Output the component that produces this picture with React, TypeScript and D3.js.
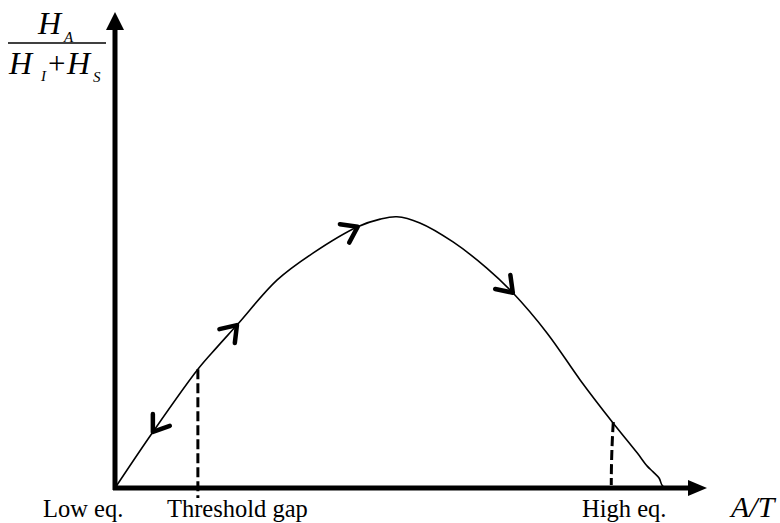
import React, { useEffect, useRef } from "react";
import * as d3 from "d3";

// hand drawn hysteresis-like curve, arbitrary units (0..100 on both axes)
const curveX = [0, 6.4, 14.0, 17.2, 20.6, 27.4, 33.5, 41.0, 44.8, 47.6, 51.5, 57.1, 62.8, 67.2, 73.0, 78.6, 84.0, 88.2, 89.9, 90.9, 91.9, 92.4, 92.9];
const curveY = [0, 11.8, 25.0, 29.6, 34.3, 43.8, 49.5, 55.0, 56.6, 57.1, 55.8, 51.8, 46.3, 41.1, 32.6, 22.7, 13.9, 7.4, 4.6, 3.4, 2.1, 0.6, 0];

const thresholdX = 14.0;
const thresholdY = 25.0;
const highEqX = 84.0;
const highEqY = 13.9;

// arrows along the curve: x position and direction (+1 forward, -1 backward)
const arrowAt = [6.4, 20.6, 41.0, 67.2];
const arrowDir = [-1, 1, 1, 1];

const xLabels = ["Low eq.", "Threshold gap", "High eq."];
const xTitle = "A/T";

function App() {
  const ref = useRef<SVGSVGElement>(null);

  useEffect(() => {
    const width = 780;
    const height = 523;
    const x = d3.scaleLinear().domain([0, 100]).range([115, 707]);
    const y = d3.scaleLinear().domain([0, 100]).range([488, 13]);

    const svg = d3.select(ref.current);
    svg.selectAll("*").remove();
    svg.attr("width", width).attr("height", height);

    const pts: [number, number][] = curveX.map((d, i) => [x(d), y(curveY[i])]);

    // axes
    svg.append("line")
      .attr("x1", x(0)).attr("x2", x(0))
      .attr("y1", y(0) + 2).attr("y2", 28)
      .attr("stroke", "#000").attr("stroke-width", 5);
    svg.append("path")
      .attr("d", `M${x(0)},${y(100) - 1}L${x(0) - 9},30L${x(0) + 9},30Z`)
      .attr("fill", "#000");
    svg.append("line")
      .attr("x1", x(0) - 2).attr("x2", 690)
      .attr("y1", y(0)).attr("y2", y(0))
      .attr("stroke", "#000").attr("stroke-width", 5);
    svg.append("path")
      .attr("d", `M${x(100)},${y(0)}L688,${y(0) - 8}L688,${y(0) + 8}Z`)
      .attr("fill", "#000");

    // dashed guides
    svg.append("line")
      .attr("x1", x(thresholdX)).attr("x2", x(thresholdX))
      .attr("y1", y(thresholdY)).attr("y2", y(0) + 10)
      .attr("stroke", "#000").attr("stroke-width", 3)
      .attr("stroke-dasharray", "10,4");
    svg.append("path")
      .attr("d", `M${x(highEqX) + 1},${y(highEqY)}Q${x(highEqX) - 1},${y(highEqY / 2)} ${x(highEqX) - 1},${y(0) - 3}`)
      .attr("fill", "none")
      .attr("stroke", "#000").attr("stroke-width", 3)
      .attr("stroke-dasharray", "10,4");

    // curve
    const line = d3.line().curve(d3.curveCatmullRom.alpha(0.5));
    svg.append("path")
      .attr("d", line(pts))
      .attr("fill", "none")
      .attr("stroke", "#000")
      .attr("stroke-width", 1.6);

    // chevron arrows
    arrowAt.forEach((a, k) => {
      let i = curveX.findIndex((d) => d >= a);
      if (i < 1) i = 1;
      const p0 = pts[i - 1];
      const p1 = pts[Math.min(i + 1, pts.length - 1)];
      const t = (x(a) - pts[i - 1][0]) / (pts[i][0] - pts[i - 1][0] || 1);
      const px = pts[i - 1][0] + t * (pts[i][0] - pts[i - 1][0]);
      const py = pts[i - 1][1] + t * (pts[i][1] - pts[i - 1][1]);
      let ang = Math.atan2(p1[1] - p0[1], p1[0] - p0[0]);
      if (arrowDir[k] < 0) ang += Math.PI;
      const back = ang + Math.PI;
      const spread = (35 * Math.PI) / 180;
      const len = 18;
      const a1 = back + spread;
      const a2 = back - spread;
      svg.append("path")
        .attr("d", `M${px + len * Math.cos(a1)},${py + len * Math.sin(a1)}L${px},${py}L${px + len * Math.cos(a2)},${py + len * Math.sin(a2)}`)
        .attr("fill", "none")
        .attr("stroke", "#000")
        .attr("stroke-width", 4.5)
        .attr("stroke-linecap", "round")
        .attr("stroke-linejoin", "round");
    });

    // x labels
    const font = "'Liberation Serif', 'Times New Roman', serif";
    const labelX = [43, 167, 582];
    xLabels.forEach((l, i) => {
      svg.append("text")
        .attr("x", labelX[i]).attr("y", 517)
        .attr("font-family", font).attr("font-size", 24.5)
        .text(l);
    });
    svg.append("text")
      .attr("x", 731).attr("y", 517)
      .attr("font-family", font).attr("font-size", 30)
      .attr("font-style", "italic")
      .text(xTitle);

    // y label: H_A / (H_I + H_S)
    const it = (tx: string, px: number, py: number, size: number, italic = true) =>
      svg.append("text")
        .attr("x", px).attr("y", py)
        .attr("font-family", font).attr("font-size", size)
        .attr("font-style", italic ? "italic" : "normal")
        .text(tx);
    it("H", 38, 34, 32);
    it("A", 64, 42, 15);
    svg.append("line")
      .attr("x1", 8).attr("x2", 106)
      .attr("y1", 43).attr("y2", 43)
      .attr("stroke", "#000").attr("stroke-width", 1.5);
    it("H", 9, 74, 32);
    it("I", 41, 81, 15);
    it("+", 48, 74, 31, false);
    it("H", 67, 74, 32);
    it("S", 93, 82, 15);
  }, []);

  return (
    <div style={{ position: "absolute", left: 0, top: 0 }}>
      <svg ref={ref}></svg>
    </div>
  );
}

export default App;
